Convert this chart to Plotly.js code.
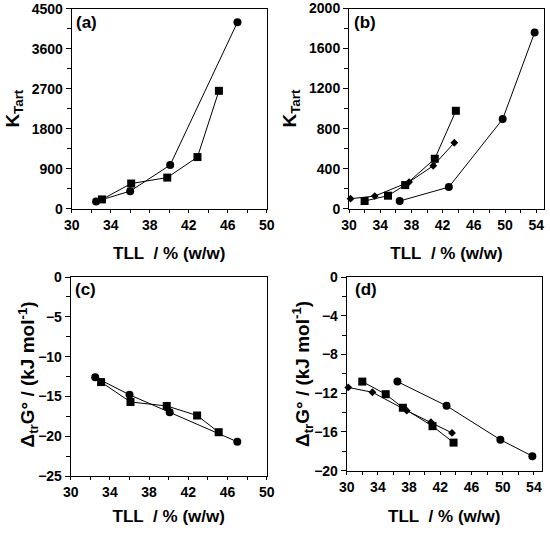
<!DOCTYPE html>
<html>
<head>
<meta charset="utf-8">
<script src="https://cdn.plot.ly/plotly-3.0.1.min.js"></script>
<style>html,body{margin:0;padding:0;background:#fff;}#chart{width:550px;height:534px;}</style>
</head>
<body>
<div id="chart"></div>
<script>
// Panel (a) / (c): TLL (% w/w)
const acCircleTLL = [32.5, 36.0, 40.1, 47.0];
const acSquareTLL = [33.1, 36.1, 39.8, 42.9, 45.1];
const aCircleK = [164, 395, 983, 4195];
const aSquareK = [209, 566, 700, 1162, 2652];
const cCircleG = [-12.6, -14.8, -17.0, -20.7];
const cSquareG = [-13.2, -15.7, -16.2, -17.4, -19.5];

// Panel (b) / (d)
const bdCircleTLL = [36.5, 42.8, 49.7, 53.8];
const bdSquareTLL = [32.0, 35.0, 37.2, 41.0, 43.7];
const bdDiamondTLL = [30.2, 33.3, 37.7, 40.8, 43.5];
const bCircleK = [77, 216, 895, 1760];
const bSquareK = [77, 130, 236, 499, 978];
const bDiamondK = [100, 126, 266, 429, 659];
const dCircleG = [-10.8, -13.3, -16.8, -18.5];
const dSquareG = [-10.8, -12.1, -13.5, -15.4, -17.1];
const dDiamondG = [-11.4, -11.9, -13.8, -15.0, -16.1];

const panelLabels = ['(a)', '(b)', '(c)', '(d)'];
const xTitleText = 'TLL\u00A0\u00A0/ % (w/w)';
const yTitleK = 'K<sub>Tart</sub>';
const yTitleG = '\u0394<sub>tr</sub>G\u00B0 / (kJ mol<sup>-1</sup>)';

const FONT = 'Liberation Sans, Arial, Helvetica, sans-serif';

function tr(x, y, sym, sz, xa, ya) {
  return {
    x: x, y: y, xaxis: xa, yaxis: ya, type: 'scatter', mode: 'lines+markers',
    line: {color: '#000', width: 1},
    marker: {symbol: sym, size: sz, color: '#000'},
    showlegend: false, hoverinfo: 'skip', cliponaxis: false
  };
}

const data = [
  tr(acCircleTLL, aCircleK, 'circle', 8, 'x', 'y'),
  tr(acSquareTLL, aSquareK, 'square', 8, 'x', 'y'),
  tr(bdCircleTLL, bCircleK, 'circle', 8, 'x2', 'y2'),
  tr(bdSquareTLL, bSquareK, 'square', 8, 'x2', 'y2'),
  tr(bdDiamondTLL, bDiamondK, 'diamond', 6, 'x2', 'y2'),
  tr(acCircleTLL, cCircleG, 'circle', 8, 'x3', 'y3'),
  tr(acSquareTLL, cSquareG, 'square', 8, 'x3', 'y3'),
  tr(bdCircleTLL, dCircleG, 'circle', 8, 'x4', 'y4'),
  tr(bdSquareTLL, dSquareG, 'square', 8, 'x4', 'y4'),
  tr(bdDiamondTLL, dDiamondG, 'diamond', 6, 'x4', 'y4')
];

const tickFont = {family: FONT, size: 14, color: '#000', weight: 'bold'};
const titleFont = {family: FONT, size: 17, color: '#000', weight: 'bold'};

function xax(domain, anchor, range, pad, standoff) {
  return {
    domain: domain, anchor: anchor, range: range, tick0: 30, dtick: 4,
    showgrid: false, zeroline: false, showline: true, linecolor: '#000', linewidth: 1, mirror: true,
    ticks: 'outside', ticklen: 3, tickwidth: 1, tickcolor: '#000',
    minor: {dtick: 2, ticks: 'outside', ticklen: 3, tickwidth: 1, tickcolor: '#000', showgrid: false},
    tickfont: tickFont, fixedrange: true,
    title: {text: '\u00A0'.repeat(pad) + xTitleText, font: titleFont, standoff: standoff}
  };
}
function yax(domain, anchor, range, dtick, mdtick, title, standoff) {
  const ax = {
    domain: domain, anchor: anchor, range: range, tick0: 0, dtick: dtick,
    showgrid: false, zeroline: false, showline: true, linecolor: '#000', linewidth: 1, mirror: true,
    ticks: 'outside', ticklen: 5, tickwidth: 1, tickcolor: '#000',
    minor: {dtick: mdtick, ticks: 'outside', ticklen: 4, tickwidth: 1, tickcolor: '#000', showgrid: false},
    tickfont: tickFont, fixedrange: true
  };
  if (title) ax.title = {text: title, font: {family: FONT, size: 19, color: '#000', weight: 'bold'}, standoff: standoff};
  return ax;
}

const W = 550, H = 534;
const annotations = [
  [74, 23], [352, 23], [72.7, 289.5], [353, 289.5]
].map((p, i) => ({
  text: panelLabels[i], xref: 'paper', yref: 'paper', x: p[0] / W, y: 1 - p[1] / H,
  xanchor: 'left', yanchor: 'middle', showarrow: false,
  font: {family: FONT, size: 17, color: '#000', weight: 'bold'}
}));
// y titles of (c) and (d)
[[27.5, 375], [302, 374]].forEach(p => annotations.push({
  text: yTitleG, xref: 'paper', yref: 'paper', x: p[0] / W, y: 1 - p[1] / H,
  xanchor: 'center', yanchor: 'middle', textangle: -90, showarrow: false,
  font: {family: FONT, size: 19, color: '#000', weight: 'bold'}
}));

const layout = {
  width: W, height: H,
  margin: {l: 0, r: 0, t: 0, b: 0},
  paper_bgcolor: '#fff', plot_bgcolor: '#fff',
  font: {family: FONT, color: '#000'},
  xaxis: xax([71.7 / W, 266.7 / W], 'y', [30, 50], 1, 15),
  yaxis: yax([1 - 208.7 / H, 1 - 8.7 / H], 'x', [0, 4500], 900, 450, yTitleK, 7),
  xaxis2: xax([349 / W, 544 / W], 'y2', [30, 55], 1, 15),
  yaxis2: yax([1 - 208.7 / H, 1 - 8.5 / H], 'x2', [0, 2000], 400, 200, yTitleK, 7),
  xaxis3: xax([70.7 / W, 266.7 / W], 'y3', [30, 50], 4, 11),
  yaxis3: yax([1 - 476 / H, 1 - 277 / H], 'x3', [-25, 0], 5, 2.5, null, 0),
  xaxis4: xax([346.7 / W, 541.7 / W], 'y4', [30, 55], 4, 16),
  yaxis4: yax([1 - 470.7 / H, 1 - 277 / H], 'x4', [-20, 0], 4, 2, null, 0),
  annotations: annotations
};

Plotly.newPlot('chart', data, layout, {staticPlot: true, displayModeBar: false});
</script>
</body>
</html>
